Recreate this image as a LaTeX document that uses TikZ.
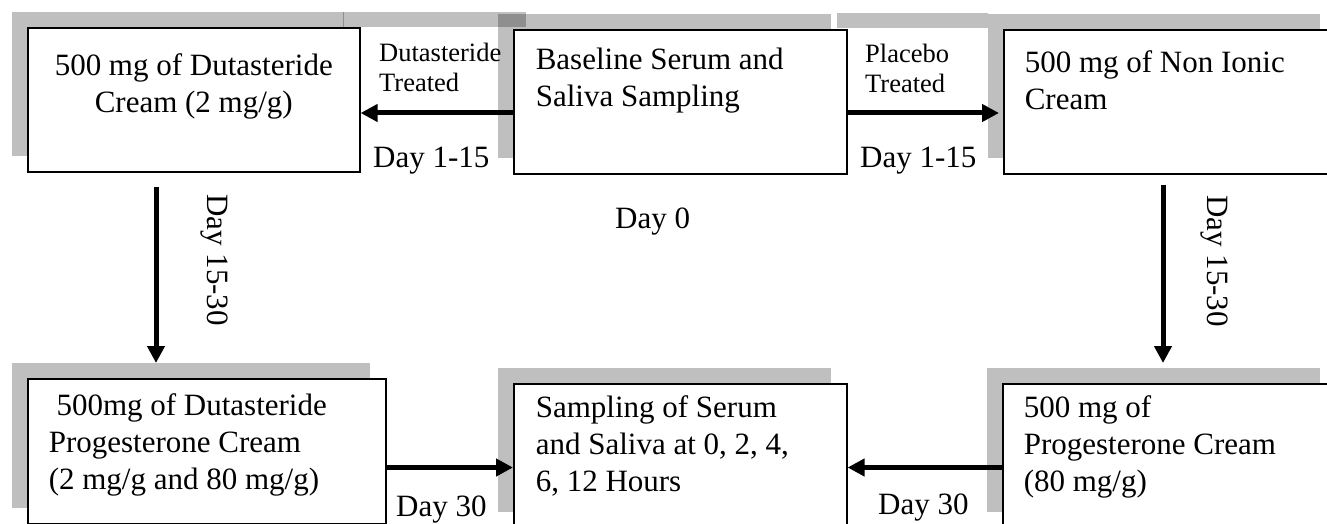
\documentclass[tikz,border=0pt]{standalone}
\usepackage{fontspec}
\setmainfont{Liberation Serif}
\usetikzlibrary{arrows.meta,shadows}

% body of a step box: width, height, alignment, first-baseline drop, text
\newcommand\stepbody[5]{\parbox[t][#2][t]{#1}{#3\rule{0pt}{#4}#5}}

\tikzset{
  shade col/.style={fill=black, fill opacity=0.25},
  stepbox/.style={draw=black, line width=1.6pt, fill=white, inner sep=0pt,
    anchor=north west, font=\fontsize{31}{37}\selectfont,
    general shadow={shade col, shadow xshift=-15.5pt, shadow yshift=15.5pt}},
  flow/.style={line width=5pt, -{Triangle[length=17pt,width=17pt]}},
  tag/.style={inner sep=0pt, anchor=base west, font=\fontsize{31}{37}\selectfont},
  smalltag/.style={inner sep=0pt, anchor=base west, font=\fontsize{26.5}{30}\selectfont},
  sidetag/.style={inner sep=0pt, anchor=base, rotate=-90, font=\fontsize{31}{37}\selectfont},
}

\begin{document}
\begin{tikzpicture}[x=1pt, y=-1pt]
  \useasboundingbox (0,0) rectangle (1327,524);
  \fill[white] (0,0) rectangle (1327,524);
  \clip (0,0) rectangle (1327,524);

  % shadow edges of the two treatment label panels
  \fill[shade col] (343,12) rectangle (526,27);
  \fill[shade col] (837,13) rectangle (988,28);

  % steps of the study
  \node[stepbox] (b1) at (27,27)
    {\stepbody{332pt}{144pt}{\centering}{48pt}{500 mg of Dutasteride\\Cream (2 mg/g)}};
  \node[stepbox] (b2) at (513,29)
    {\stepbody{333pt}{144pt}{\raggedright\leftskip=22pt}{40pt}{Baseline Serum and\\Saliva Sampling}};
  \node[stepbox] (b3) at (1003,29)
    {\stepbody{332pt}{144pt}{\raggedright\leftskip=21pt}{43pt}{500 mg of Non Ionic\\Cream}};
  \node[stepbox] (b4) at (27,378)
    {\stepbody{358pt}{145pt}{\raggedright\leftskip=21pt}{37pt}{\hspace*{0.25em}500mg of Dutasteride\\Progesterone Cream\\(2 mg/g and 80 mg/g)}};
  \node[stepbox] (b5) at (513,383)
    {\stepbody{333pt}{144pt}{\raggedright\leftskip=22pt}{34pt}{Sampling of Serum\\and Saliva at 0, 2, 4,\\6, 12 Hours}};
  \node[stepbox] (b6) at (1002,383)
    {\stepbody{333pt}{144pt}{\raggedright\leftskip=21pt}{34pt}{500 mg of\\Progesterone Cream\\(80 mg/g)}};

  % guide lines for the connectors
  \coordinate (topy) at (0,113);
  \coordinate (boty) at (0,467.5);
  \coordinate (leftx) at (156,0);
  \coordinate (rightx) at (1163,0);

  % connectors
  \draw[flow] (b2.west |- topy) -- (b1.east |- topy);
  \draw[flow] (b2.east |- topy) -- ([xshift=-4pt]b3.west |- topy);
  \draw[flow, shorten <=14pt, shorten >=15pt] (b1.south -| leftx) -- (b4.north -| leftx);
  \draw[flow, shorten <=10pt, shorten >=20pt] (b3.south -| rightx) -- (b6.north -| rightx);
  \draw[flow] (b4.east |- boty) -- (b5.west |- boty);
  \draw[flow] (b6.west |- boty) -- (b5.east |- boty);

  % connector labels
  \node[smalltag] (l1) at (379,62) {\parbox[t]{150pt}{Dutasteride\\Treated}};
  \node[smalltag] (l2) at (865,63) {\parbox[t]{150pt}{Placebo\\Treated}};
  \node[tag] (d1) at (373,167) {Day 1-15};
  \node[tag] (d2) at (860,167) {Day 1-15};
  \node[tag] (d0) at (615,228) {Day 0};
  \node[sidetag] (d3) at (207,260) {Day 15-30};
  \node[sidetag] (d4) at (1207,261) {Day 15-30};
  \node[tag] (d5) at (396,516) {Day 30};
  \node[tag] (d6) at (878,514) {Day 30};
\end{tikzpicture}
\end{document}
